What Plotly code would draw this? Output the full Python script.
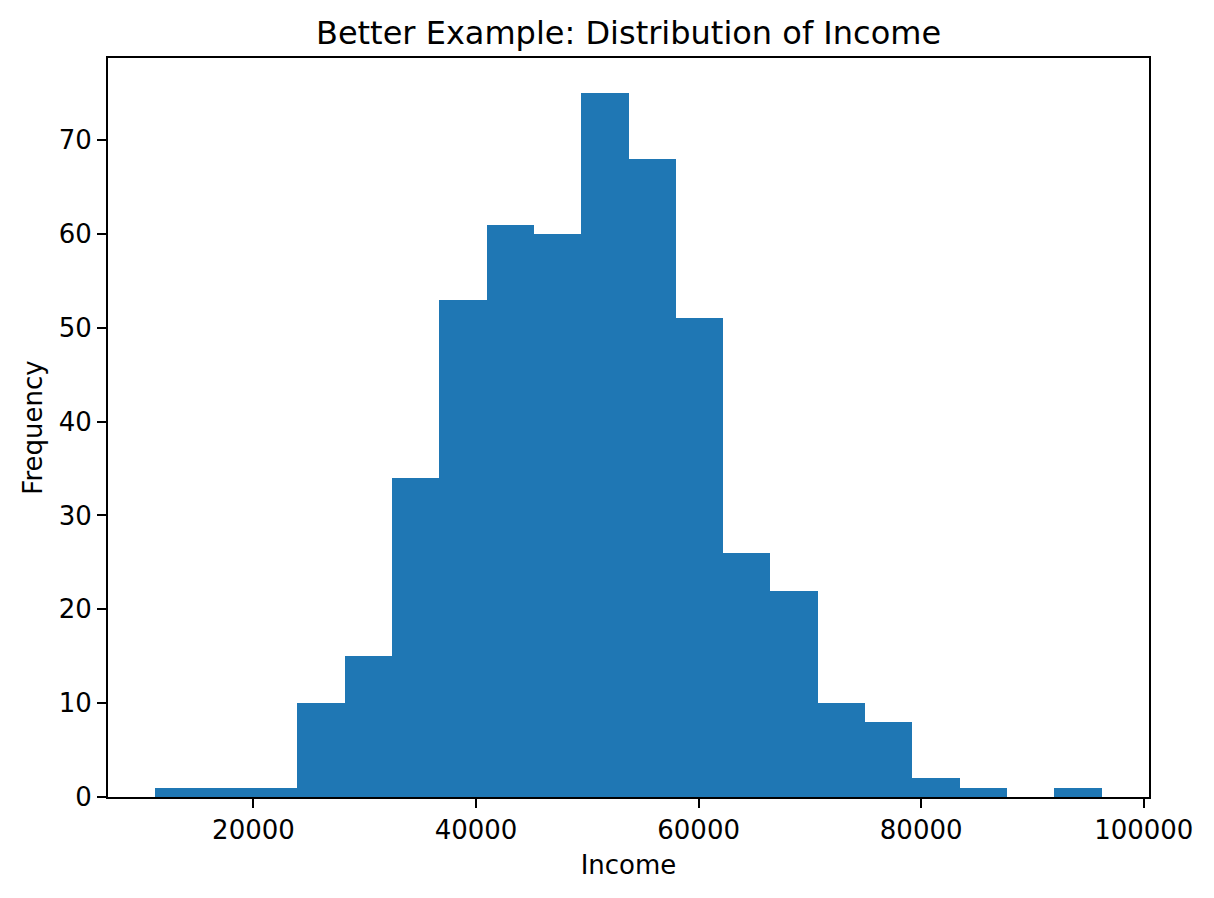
import plotly.graph_objects as go

# Histogram bin edges (Income) and counts
bin_edges = [11180, 15432, 19684, 23936, 28188, 32440, 36692, 40944, 45196, 49448,
             53700, 57952, 62204, 66456, 70708, 74960, 79212, 83464, 87716, 91968, 96220]
counts = [1, 1, 1, 10, 15, 34, 53, 61, 60, 75, 68, 51, 26, 22, 10, 8, 2, 1, 0, 1]

x_tick_vals = [20000, 40000, 60000, 80000, 100000]
x_tick_text = ["20000", "40000", "60000", "80000", "100000"]
y_tick_vals = [0, 10, 20, 30, 40, 50, 60, 70]

lefts = bin_edges[:-1]
widths = [b - a for a, b in zip(bin_edges[:-1], bin_edges[1:])]
centers = [a + w / 2 for a, w in zip(lefts, widths)]

span = bin_edges[-1] - bin_edges[0]
x_range = [bin_edges[0] - 0.05 * span, bin_edges[-1] + 0.05 * span]
y_range = [0, max(counts) * 1.05]

fig = go.Figure(
    go.Bar(
        x=centers,
        y=counts,
        width=widths,
        marker=dict(color="#1f77b4", line=dict(width=0)),
    )
)

font_family = "DejaVu Sans"
axis_common = dict(
    showline=True,
    mirror=True,
    linecolor="black",
    linewidth=2,
    ticks="outside",
    ticklen=9,
    tickwidth=2,
    tickcolor="black",
    showgrid=False,
    zeroline=False,
    tickfont=dict(family=font_family, size=26, color="black"),
)

W, H = 1206, 890
fig.update_layout(
    width=W,
    height=H,
    margin=dict(l=100, r=65, t=50, b=101),
    paper_bgcolor="white",
    plot_bgcolor="white",
    bargap=0,
    showlegend=False,
    title=dict(
        text="Better Example: Distribution of Income",
        x=0.5,
        xref="paper",
        xanchor="center",
        y=1 - 25 / H,
        yref="container",
        yanchor="middle",
        font=dict(family=font_family, size=32, color="black"),
    ),
    xaxis=dict(
        range=x_range,
        tickmode="array",
        tickvals=x_tick_vals,
        ticktext=x_tick_text,
        title=dict(text="Income", standoff=12,
                   font=dict(family=font_family, size=26, color="black")),
        **axis_common,
    ),
    yaxis=dict(
        range=y_range,
        tickmode="array",
        tickvals=y_tick_vals,
        title=dict(text="Frequency", standoff=9,
                   font=dict(family=font_family, size=26, color="black")),
        **axis_common,
    ),
)

fig.write_html("out.html")
